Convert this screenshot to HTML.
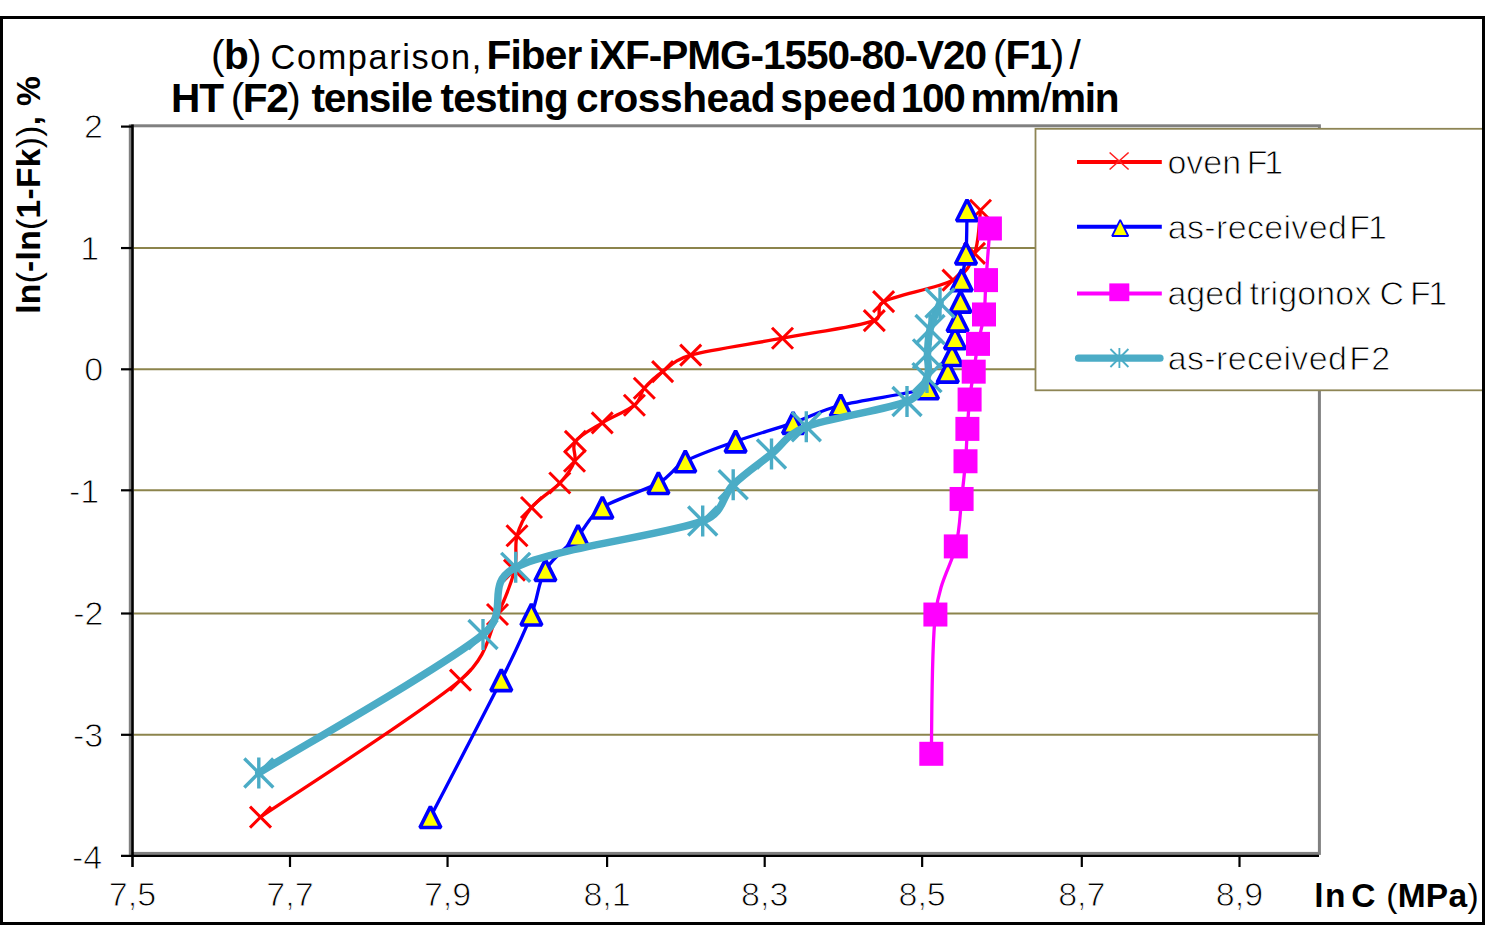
<!DOCTYPE html>
<html><head><meta charset="utf-8"><title>Weibull comparison chart</title>
<style>html,body{margin:0;padding:0;background:#fff;width:1485px;height:926px;overflow:hidden}
svg{display:block} text{font-family:"Liberation Sans",sans-serif}</style></head>
<body><svg width="1485" height="926" viewBox="0 0 1485 926">
<rect width="1485" height="926" fill="#fff"/>
<g id="grid"><line x1="133.5" y1="248.05" x2="1318.5" y2="248.05" stroke="#8C844C" stroke-width="2"/><line x1="133.5" y1="369.30" x2="1318.5" y2="369.30" stroke="#8C844C" stroke-width="2"/><line x1="133.5" y1="490.30" x2="1318.5" y2="490.30" stroke="#8C844C" stroke-width="2"/><line x1="133.5" y1="613.50" x2="1318.5" y2="613.50" stroke="#8C844C" stroke-width="2"/><line x1="133.5" y1="734.80" x2="1318.5" y2="734.80" stroke="#8C844C" stroke-width="2"/></g>
<g id="axes"><rect x="130.3" y="125.8" width="1189.1" height="727.6" fill="none" stroke="#808080" stroke-width="3"/><line x1="132.5" y1="124.5" x2="132.5" y2="867" stroke="#000" stroke-width="2.6"/><line x1="121" y1="855.8" x2="1319" y2="855.8" stroke="#000" stroke-width="2.3"/><line x1="121" y1="126.60" x2="132.5" y2="126.60" stroke="#000" stroke-width="2.2"/><line x1="121" y1="248.05" x2="132.5" y2="248.05" stroke="#000" stroke-width="2.2"/><line x1="121" y1="369.30" x2="132.5" y2="369.30" stroke="#000" stroke-width="2.2"/><line x1="121" y1="490.30" x2="132.5" y2="490.30" stroke="#000" stroke-width="2.2"/><line x1="121" y1="613.50" x2="132.5" y2="613.50" stroke="#000" stroke-width="2.2"/><line x1="121" y1="734.80" x2="132.5" y2="734.80" stroke="#000" stroke-width="2.2"/><line x1="290.00" y1="855.8" x2="290.00" y2="867" stroke="#000" stroke-width="2.2"/><line x1="447.55" y1="855.8" x2="447.55" y2="867" stroke="#000" stroke-width="2.2"/><line x1="607.10" y1="855.8" x2="607.10" y2="867" stroke="#000" stroke-width="2.2"/><line x1="764.70" y1="855.8" x2="764.70" y2="867" stroke="#000" stroke-width="2.2"/><line x1="922.15" y1="855.8" x2="922.15" y2="867" stroke="#000" stroke-width="2.2"/><line x1="1081.80" y1="855.8" x2="1081.80" y2="867" stroke="#000" stroke-width="2.2"/><line x1="1239.50" y1="855.8" x2="1239.50" y2="867" stroke="#000" stroke-width="2.2"/></g>
<g id="series"><path d="M260.50,817.07 C293.83,794.24 421.00,713.83 460.50,680.08 C489.11,655.63 488.50,632.87 497.50,614.53 C506.50,596.20 511.25,583.19 514.50,570.07 C517.75,556.94 514.17,546.22 517.00,535.79 C519.83,525.36 524.37,516.27 531.50,507.48 C538.63,498.69 552.63,490.74 559.80,483.04 C566.97,475.34 571.90,468.21 574.50,461.26 C577.10,454.32 570.78,447.77 575.40,441.37 C580.02,434.96 592.37,428.85 602.20,422.83 C612.03,416.81 627.38,411.00 634.40,405.25 C641.42,399.49 639.60,393.88 644.30,388.29 C649.00,382.69 654.87,377.19 662.60,371.66 C670.33,366.12 674.99,359.46 690.70,355.07 C710.68,349.49 751.90,343.94 782.50,338.19 C813.10,332.45 857.45,326.69 874.30,320.59 C884.23,317.00 874.21,306.46 883.60,301.63 C896.72,294.89 937.85,288.17 953.00,280.13 C968.15,272.09 969.92,265.01 974.50,253.38 C979.08,241.74 979.50,217.49 980.50,210.31" stroke="#FF0000" stroke-width="3.3" fill="none"/><path d="M250.00,806.57L271.00,827.57M250.00,827.57L271.00,806.57" stroke="#FF0000" stroke-width="3" fill="none"/><path d="M450.00,669.58L471.00,690.58M450.00,690.58L471.00,669.58" stroke="#FF0000" stroke-width="3" fill="none"/><path d="M487.00,604.03L508.00,625.03M487.00,625.03L508.00,604.03" stroke="#FF0000" stroke-width="3" fill="none"/><path d="M504.00,559.57L525.00,580.57M504.00,580.57L525.00,559.57" stroke="#FF0000" stroke-width="3" fill="none"/><path d="M506.50,525.29L527.50,546.29M506.50,546.29L527.50,525.29" stroke="#FF0000" stroke-width="3" fill="none"/><path d="M521.00,496.98L542.00,517.98M521.00,517.98L542.00,496.98" stroke="#FF0000" stroke-width="3" fill="none"/><path d="M549.30,472.54L570.30,493.54M549.30,493.54L570.30,472.54" stroke="#FF0000" stroke-width="3" fill="none"/><path d="M564.00,450.76L585.00,471.76M564.00,471.76L585.00,450.76" stroke="#FF0000" stroke-width="3" fill="none"/><path d="M564.90,430.87L585.90,451.87M564.90,451.87L585.90,430.87" stroke="#FF0000" stroke-width="3" fill="none"/><path d="M591.70,412.33L612.70,433.33M591.70,433.33L612.70,412.33" stroke="#FF0000" stroke-width="3" fill="none"/><path d="M623.90,394.75L644.90,415.75M623.90,415.75L644.90,394.75" stroke="#FF0000" stroke-width="3" fill="none"/><path d="M633.80,377.79L654.80,398.79M633.80,398.79L654.80,377.79" stroke="#FF0000" stroke-width="3" fill="none"/><path d="M652.10,361.16L673.10,382.16M652.10,382.16L673.10,361.16" stroke="#FF0000" stroke-width="3" fill="none"/><path d="M680.20,344.57L701.20,365.57M680.20,365.57L701.20,344.57" stroke="#FF0000" stroke-width="3" fill="none"/><path d="M772.00,327.69L793.00,348.69M772.00,348.69L793.00,327.69" stroke="#FF0000" stroke-width="3" fill="none"/><path d="M863.80,310.09L884.80,331.09M863.80,331.09L884.80,310.09" stroke="#FF0000" stroke-width="3" fill="none"/><path d="M873.10,291.13L894.10,312.13M873.10,312.13L894.10,291.13" stroke="#FF0000" stroke-width="3" fill="none"/><path d="M942.50,269.63L963.50,290.63M942.50,290.63L963.50,269.63" stroke="#FF0000" stroke-width="3" fill="none"/><path d="M964.00,242.88L985.00,263.88M964.00,263.88L985.00,242.88" stroke="#FF0000" stroke-width="3" fill="none"/><path d="M970.00,199.81L991.00,220.81M970.00,220.81L991.00,199.81" stroke="#FF0000" stroke-width="3" fill="none"/><path d="M430.40,817.07 C442.22,794.24 484.47,713.83 501.30,680.08 C517.39,647.81 524.05,632.87 531.40,614.53 C538.75,596.20 537.63,583.19 545.40,570.07 C553.17,556.94 568.50,546.22 578.00,535.79 C587.50,525.36 589.00,516.27 602.40,507.48 C615.80,498.69 644.58,490.74 658.40,483.04 C672.22,475.34 672.43,468.21 685.30,461.26 C698.17,454.32 717.63,447.77 735.60,441.37 C753.57,434.96 775.57,428.85 793.10,422.83 C810.63,416.81 818.33,411.00 840.80,405.25 C863.27,399.49 910.07,393.88 927.90,388.29 C940.27,384.40 943.78,377.19 947.80,371.66 C951.82,366.12 950.80,360.65 952.00,355.07 C953.20,349.49 954.07,343.94 955.00,338.19 C955.93,332.45 956.68,326.69 957.60,320.59 C958.52,314.50 959.82,308.37 960.50,301.63 C961.18,294.89 960.78,288.17 961.70,280.13 C962.62,272.09 965.12,265.01 966.00,253.38 C966.88,241.74 966.83,217.49 967.00,210.31" stroke="#0000FF" stroke-width="3.3" fill="none"/><polygon points="430.40,806.57 440.90,827.57 419.90,827.57" fill="#FFFF00" stroke="#0000FF" stroke-width="3.6" stroke-linejoin="bevel"/><polygon points="501.30,669.58 511.80,690.58 490.80,690.58" fill="#FFFF00" stroke="#0000FF" stroke-width="3.6" stroke-linejoin="bevel"/><polygon points="531.40,604.03 541.90,625.03 520.90,625.03" fill="#FFFF00" stroke="#0000FF" stroke-width="3.6" stroke-linejoin="bevel"/><polygon points="545.40,559.57 555.90,580.57 534.90,580.57" fill="#FFFF00" stroke="#0000FF" stroke-width="3.6" stroke-linejoin="bevel"/><polygon points="578.00,525.29 588.50,546.29 567.50,546.29" fill="#FFFF00" stroke="#0000FF" stroke-width="3.6" stroke-linejoin="bevel"/><polygon points="602.40,496.98 612.90,517.98 591.90,517.98" fill="#FFFF00" stroke="#0000FF" stroke-width="3.6" stroke-linejoin="bevel"/><polygon points="658.40,472.54 668.90,493.54 647.90,493.54" fill="#FFFF00" stroke="#0000FF" stroke-width="3.6" stroke-linejoin="bevel"/><polygon points="685.30,450.76 695.80,471.76 674.80,471.76" fill="#FFFF00" stroke="#0000FF" stroke-width="3.6" stroke-linejoin="bevel"/><polygon points="735.60,430.87 746.10,451.87 725.10,451.87" fill="#FFFF00" stroke="#0000FF" stroke-width="3.6" stroke-linejoin="bevel"/><polygon points="793.10,412.33 803.60,433.33 782.60,433.33" fill="#FFFF00" stroke="#0000FF" stroke-width="3.6" stroke-linejoin="bevel"/><polygon points="840.80,394.75 851.30,415.75 830.30,415.75" fill="#FFFF00" stroke="#0000FF" stroke-width="3.6" stroke-linejoin="bevel"/><polygon points="927.90,377.79 938.40,398.79 917.40,398.79" fill="#FFFF00" stroke="#0000FF" stroke-width="3.6" stroke-linejoin="bevel"/><polygon points="947.80,361.16 958.30,382.16 937.30,382.16" fill="#FFFF00" stroke="#0000FF" stroke-width="3.6" stroke-linejoin="bevel"/><polygon points="952.00,344.57 962.50,365.57 941.50,365.57" fill="#FFFF00" stroke="#0000FF" stroke-width="3.6" stroke-linejoin="bevel"/><polygon points="955.00,327.69 965.50,348.69 944.50,348.69" fill="#FFFF00" stroke="#0000FF" stroke-width="3.6" stroke-linejoin="bevel"/><polygon points="957.60,310.09 968.10,331.09 947.10,331.09" fill="#FFFF00" stroke="#0000FF" stroke-width="3.6" stroke-linejoin="bevel"/><polygon points="960.50,291.13 971.00,312.13 950.00,312.13" fill="#FFFF00" stroke="#0000FF" stroke-width="3.6" stroke-linejoin="bevel"/><polygon points="961.70,269.63 972.20,290.63 951.20,290.63" fill="#FFFF00" stroke="#0000FF" stroke-width="3.6" stroke-linejoin="bevel"/><polygon points="966.00,242.88 976.50,263.88 955.50,263.88" fill="#FFFF00" stroke="#0000FF" stroke-width="3.6" stroke-linejoin="bevel"/><polygon points="967.00,199.81 977.50,220.81 956.50,220.81" fill="#FFFF00" stroke="#0000FF" stroke-width="3.6" stroke-linejoin="bevel"/><path d="M931.30,753.80 C931.98,730.59 931.32,649.10 935.40,614.53 C939.48,579.97 951.43,565.67 955.80,546.41 C960.17,527.15 959.98,513.17 961.60,498.98 C963.22,484.79 964.53,472.94 965.50,461.26 C966.47,449.58 966.72,439.17 967.40,428.89 C968.08,418.60 968.55,409.08 969.60,399.54 C970.65,390.00 972.30,380.94 973.70,371.66 C975.10,362.38 976.28,353.41 978.00,343.87 C979.72,334.34 982.67,325.09 984.00,314.47 C985.33,303.84 985.02,294.46 986.00,280.13 C986.98,265.80 989.25,237.08 989.90,228.47" stroke="#FF00FF" stroke-width="3.3" fill="none"/><rect x="919.30" y="741.80" width="24.00" height="24.00" fill="#FF00FF"/><rect x="923.40" y="602.53" width="24.00" height="24.00" fill="#FF00FF"/><rect x="943.80" y="534.41" width="24.00" height="24.00" fill="#FF00FF"/><rect x="949.60" y="486.98" width="24.00" height="24.00" fill="#FF00FF"/><rect x="953.50" y="449.26" width="24.00" height="24.00" fill="#FF00FF"/><rect x="955.40" y="416.89" width="24.00" height="24.00" fill="#FF00FF"/><rect x="957.60" y="387.54" width="24.00" height="24.00" fill="#FF00FF"/><rect x="961.70" y="359.66" width="24.00" height="24.00" fill="#FF00FF"/><rect x="966.00" y="331.87" width="24.00" height="24.00" fill="#FF00FF"/><rect x="972.00" y="302.47" width="24.00" height="24.00" fill="#FF00FF"/><rect x="974.00" y="268.13" width="24.00" height="24.00" fill="#FF00FF"/><rect x="977.90" y="216.47" width="24.00" height="24.00" fill="#FF00FF"/><path d="M258.80,772.95 C296.17,749.88 440.18,668.78 483.00,634.51 C512.16,611.18 482.51,584.49 515.70,567.35 C552.32,548.44 666.45,534.83 702.70,521.05 C724.88,512.62 721.73,495.87 733.20,484.69 C744.67,473.51 759.32,463.63 771.50,453.97 C783.68,444.31 785.69,434.68 806.30,426.71 C828.88,417.98 886.88,409.76 907.00,401.57 C921.47,395.68 923.58,385.52 927.00,377.58 C930.42,369.63 927.00,361.89 927.50,353.88 C928.00,345.87 927.92,337.99 930.00,329.52 C932.08,321.04 938.33,307.46 940.00,303.05" stroke="#4BACC6" stroke-width="7.5" fill="none" stroke-linecap="round" stroke-linejoin="round"/><path d="M244.30,758.45L273.30,787.45M244.30,787.45L273.30,758.45M258.80,757.45L258.80,788.45" stroke="#4BACC6" stroke-width="3.4" fill="none"/><path d="M468.50,620.01L497.50,649.01M468.50,649.01L497.50,620.01M483.00,619.01L483.00,650.01" stroke="#4BACC6" stroke-width="3.4" fill="none"/><path d="M501.20,552.85L530.20,581.85M501.20,581.85L530.20,552.85M515.70,551.85L515.70,582.85" stroke="#4BACC6" stroke-width="3.4" fill="none"/><path d="M688.20,506.55L717.20,535.55M688.20,535.55L717.20,506.55M702.70,505.55L702.70,536.55" stroke="#4BACC6" stroke-width="3.4" fill="none"/><path d="M718.70,470.19L747.70,499.19M718.70,499.19L747.70,470.19M733.20,469.19L733.20,500.19" stroke="#4BACC6" stroke-width="3.4" fill="none"/><path d="M757.00,439.47L786.00,468.47M757.00,468.47L786.00,439.47M771.50,438.47L771.50,469.47" stroke="#4BACC6" stroke-width="3.4" fill="none"/><path d="M791.80,412.21L820.80,441.21M791.80,441.21L820.80,412.21M806.30,411.21L806.30,442.21" stroke="#4BACC6" stroke-width="3.4" fill="none"/><path d="M892.50,387.07L921.50,416.07M892.50,416.07L921.50,387.07M907.00,386.07L907.00,417.07" stroke="#4BACC6" stroke-width="3.4" fill="none"/><path d="M912.50,363.08L941.50,392.08M912.50,392.08L941.50,363.08M927.00,362.08L927.00,393.08" stroke="#4BACC6" stroke-width="3.4" fill="none"/><path d="M913.00,339.38L942.00,368.38M913.00,368.38L942.00,339.38M927.50,338.38L927.50,369.38" stroke="#4BACC6" stroke-width="3.4" fill="none"/><path d="M915.50,315.02L944.50,344.02M915.50,344.02L944.50,315.02M930.00,314.02L930.00,345.02" stroke="#4BACC6" stroke-width="3.4" fill="none"/><path d="M925.50,288.55L954.50,317.55M925.50,317.55L954.50,288.55M940.00,287.55L940.00,318.55" stroke="#4BACC6" stroke-width="3.4" fill="none"/></g>
<g id="legend"><rect x="1035.5" y="128.8" width="460" height="261.5" fill="#fff" stroke="#8E8555" stroke-width="1.8"/><line x1="1077" y1="162.0" x2="1161.8" y2="162.0" stroke="#FF0000" stroke-width="4"/><path d="M1109.6,152.5L1128.6,169.5M1109.6,169.5L1128.6,152.5" stroke="#FF2020" stroke-width="1.6" fill="none"/><line x1="1077" y1="226.7" x2="1161.8" y2="226.7" stroke="#0000FF" stroke-width="4"/><polygon points="1120.20,219.80 1128.30,236.00 1112.10,236.00" fill="#FFFF00" stroke="#0000FF" stroke-width="1.8" stroke-linejoin="bevel"/><line x1="1077" y1="293.5" x2="1161.8" y2="293.5" stroke="#FF00FF" stroke-width="4"/><rect x="1109.3" y="283.4" width="20" height="17.8" fill="#FF00FF"/><line x1="1078.5" y1="358.2" x2="1160" y2="358.2" stroke="#4BACC6" stroke-width="7.2" stroke-linecap="round"/><path d="M1110.40,349.00L1128.40,367.00M1110.40,367.00L1128.40,349.00M1119.40,348.00L1119.40,368.00" stroke="#4BACC6" stroke-width="1.8" fill="none"/></g>
<g id="texts" fill="#000" font-family="'Liberation Sans', sans-serif"><text id="t1a" x="211.00" y="69.00" font-size="40.6" font-weight="bold" textLength="50.60" lengthAdjust="spacing"><tspan font-weight="normal">(</tspan>b<tspan font-weight="normal">)</tspan></text><text id="t1b" x="270.60" y="69.00" font-size="34.3" textLength="210.60" lengthAdjust="spacing">Comparison,</text><text id="t1c" x="486.60" y="69.00" font-size="40.6" font-weight="bold" textLength="95.60" lengthAdjust="spacing">Fiber</text><text id="t1d" x="588.80" y="69.00" font-size="40.6" font-weight="bold" textLength="398.40" lengthAdjust="spacing">iXF-PMG-1550-80-V20</text><text id="t1e" x="993.00" y="69.00" font-size="40.6" font-weight="bold" textLength="71.20" lengthAdjust="spacing"><tspan font-weight="normal">(</tspan>F1<tspan font-weight="normal">)</tspan></text><text id="t1f" x="1069.40" y="69.00" font-size="40.6" font-weight="bold"><tspan font-weight="normal">/</tspan></text><text id="t2a" x="171.00" y="111.50" font-size="40.6" font-weight="bold" textLength="53.00" lengthAdjust="spacing">HT</text><text id="t2b" x="230.80" y="111.50" font-size="40.6" font-weight="bold" textLength="70.00" lengthAdjust="spacing"><tspan font-weight="normal">(</tspan>F2<tspan font-weight="normal">)</tspan></text><text id="t2c" x="311.40" y="111.50" font-size="40.6" font-weight="bold" textLength="121.60" lengthAdjust="spacing">tensile</text><text id="t2d" x="440.60" y="111.50" font-size="40.6" font-weight="bold" textLength="128.20" lengthAdjust="spacing">testing</text><text id="t2e" x="576.00" y="111.50" font-size="40.6" font-weight="bold" textLength="199.60" lengthAdjust="spacing">crosshead</text><text id="t2f" x="780.20" y="111.50" font-size="40.6" font-weight="bold" textLength="116.60" lengthAdjust="spacing">speed</text><text id="t2g" x="900.80" y="111.50" font-size="40.6" font-weight="bold" textLength="65.00" lengthAdjust="spacing">100</text><text id="t2h" x="970.60" y="111.50" font-size="40.6" font-weight="bold" textLength="149.00" lengthAdjust="spacing">mm<tspan font-weight="normal">/</tspan>min</text><text id="lg1a" x="1167.40" y="173.70" font-size="34" stroke="#fff" stroke-width="0.9" textLength="73.80" lengthAdjust="spacing">oven</text><text id="lg1b" x="1246.80" y="173.70" font-size="34" stroke="#fff" stroke-width="0.9" textLength="36.40" lengthAdjust="spacing">F1</text><text id="lg2a" x="1167.80" y="238.90" font-size="34" stroke="#fff" stroke-width="0.9" textLength="179.00" lengthAdjust="spacing">as-received</text><text id="lg2b" x="1349.20" y="238.90" font-size="34" stroke="#fff" stroke-width="0.9" textLength="37.80" lengthAdjust="spacing">F1</text><text id="lg3a" x="1167.40" y="305.00" font-size="34" stroke="#fff" stroke-width="0.9" textLength="75.80" lengthAdjust="spacing">aged</text><text id="lg3b" x="1249.60" y="305.00" font-size="34" stroke="#fff" stroke-width="0.9" textLength="121.80" lengthAdjust="spacing">trigonox</text><text id="lg3c" x="1379.60" y="305.00" font-size="34" stroke="#fff" stroke-width="0.9">C</text><text id="lg3d" x="1410.00" y="305.00" font-size="34" stroke="#fff" stroke-width="0.9" textLength="37.20" lengthAdjust="spacing">F1</text><text id="lg4a" x="1167.80" y="370.10" font-size="34" stroke="#fff" stroke-width="0.9" textLength="179.00" lengthAdjust="spacing">as-received</text><text id="lg4b" x="1349.20" y="370.10" font-size="34" stroke="#fff" stroke-width="0.9" textLength="41.00" lengthAdjust="spacing">F2</text><text id="xta" x="1314.20" y="907.10" font-size="33.5" font-weight="bold" textLength="31.20" lengthAdjust="spacing">ln</text><text id="xtb" x="1351.25" y="907.10" font-size="33.5" font-weight="bold">C</text><text id="xtc" x="1386.20" y="907.10" font-size="33.5" font-weight="bold" textLength="92.40" lengthAdjust="spacing"><tspan font-weight="normal">(</tspan>MPa<tspan font-weight="normal">)</tspan></text><text id="yl0" x="102.80" y="137.70" font-size="34" text-anchor="end" stroke="#fff" stroke-width="0.9">2</text><text id="yl1" x="99.20" y="259.50" font-size="34" text-anchor="end" stroke="#fff" stroke-width="0.9">1</text><text id="yl2" x="103.20" y="381.30" font-size="34" text-anchor="end" stroke="#fff" stroke-width="0.9">0</text><text id="yl3" x="99.20" y="503.10" font-size="34" text-anchor="end" stroke="#fff" stroke-width="0.9">-1</text><text id="yl4" x="103.50" y="624.90" font-size="34" text-anchor="end" stroke="#fff" stroke-width="0.9">-2</text><text id="yl5" x="103.20" y="746.70" font-size="34" text-anchor="end" stroke="#fff" stroke-width="0.9">-3</text><text id="yl6" x="102.20" y="868.50" font-size="34" text-anchor="end" stroke="#fff" stroke-width="0.9">-4</text><text id="xl0" x="132.50" y="906.30" font-size="34" text-anchor="middle" stroke="#fff" stroke-width="0.9">7,5</text><text id="xl1" x="290.00" y="906.30" font-size="34" text-anchor="middle" stroke="#fff" stroke-width="0.9">7,7</text><text id="xl2" x="447.55" y="906.30" font-size="34" text-anchor="middle" stroke="#fff" stroke-width="0.9">7,9</text><text id="xl3" x="607.10" y="906.30" font-size="34" text-anchor="middle" stroke="#fff" stroke-width="0.9">8,1</text><text id="xl4" x="764.70" y="906.30" font-size="34" text-anchor="middle" stroke="#fff" stroke-width="0.9">8,3</text><text id="xl5" x="922.15" y="906.30" font-size="34" text-anchor="middle" stroke="#fff" stroke-width="0.9">8,5</text><text id="xl6" x="1081.80" y="906.30" font-size="34" text-anchor="middle" stroke="#fff" stroke-width="0.9">8,7</text><text id="xl7" x="1239.50" y="906.30" font-size="34" text-anchor="middle" stroke="#fff" stroke-width="0.9">8,9</text><text id="yt" font-weight="bold" font-size="33.5" transform="translate(40.00,313.80) rotate(-90)" x="0" y="0" textLength="237.60" lengthAdjust="spacing">ln<tspan font-weight="normal">(</tspan>-ln<tspan font-weight="normal">(</tspan>1-Fk<tspan font-weight="normal">))</tspan>, %</text></g>
<rect x="1.5" y="17.5" width="1482" height="906" fill="none" stroke="#000" stroke-width="3"/>
</svg></body></html>
